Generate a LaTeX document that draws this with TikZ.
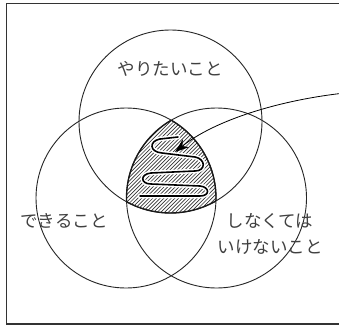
\documentclass[tikz,border=0pt]{standalone}
\usepackage{fontspec}
\newfontfamily\jp{Noto Sans CJK JP}
\usetikzlibrary{arrows.meta}
\tikzset{
  circ/.style={draw=black!85, line width=0.9pt},
  lbl/.style={font=\jp\fontsize{17.5}{26}\selectfont, text=black!75, inner sep=0pt, align=center},
  hatch/.style={line width=0.65pt, black!80},
  squig/.style={line width=1.6pt, black, line cap=round, line join=round},
  halo/.style={line width=4.6pt, white, line cap=round, line join=round},
  thickarc/.style={line width=1.35pt, black!90},
}
\begin{document}
\begin{tikzpicture}[x=1pt,y=-1pt]
\useasboundingbox (0,0) rectangle (339,326);
\fill[white] (0,0) rectangle (339,326);
\draw[line width=1.3pt, black!80] (6.5,3.5) rectangle (350,324);
% circles
\coordinate (ct) at (170.5,121.5);
\coordinate (cl) at (126,198);
\coordinate (cr) at (216.5,198);
% hatching of triple intersection
\begin{scope}
  \clip (ct) circle (91.5pt);
  \clip (cl) circle (90pt);
  \clip (cr) circle (90pt);
  \foreach \a in {0,3.7,...,260} {
    \draw[hatch] (\a,240) -- (\a+130,110);
  }
\end{scope}
\node[circ, circle, minimum size=183pt, inner sep=0pt] (top) at (ct) {};
\node[circ, circle, minimum size=180pt, inner sep=0pt] (left) at (cl) {};
\node[circ, circle, minimum size=180pt, inner sep=0pt] (right) at (cr) {};
% thick outline of triple region
\begin{scope}
  \clip (cl) circle (90pt);
  \clip (cr) circle (90pt);
  \draw[thickarc] (ct) circle (91.5pt);
\end{scope}
\begin{scope}
  \clip (ct) circle (91.5pt);
  \clip (cr) circle (90pt);
  \draw[thickarc] (cl) circle (90pt);
\end{scope}
\begin{scope}
  \clip (ct) circle (91.5pt);
  \clip (cl) circle (90pt);
  \draw[thickarc] (cr) circle (90pt);
\end{scope}
% squiggle
\def\squigpath{(178,137) -- (160,139) .. controls (149,141) and (149,152) .. (162,153) -- (195,157) .. controls (206,159) and (206,171) .. (195,171) -- (151,173) .. controls (140,174) and (140,184) .. (151,184) -- (200,186) .. controls (210,187) and (210,196) .. (200,196) -- (140,196)}
\draw[halo] \squigpath;
\draw[squig] \squigpath;
% labels
\node[lbl] (want) at (170,69) {やりたいこと};
\node[lbl] (can) at (64,221) {できること};
\node[lbl] (must) at (270,234) {しなくては\\いけないこと};
% arrow
\coordinate (src) at (345,93);
\coordinate (tip) at (175,152);
\draw[line width=0.8pt, -{Stealth[length=14pt,width=10pt]}] (src) .. controls (280,100) and (215,120) .. (tip);
\end{tikzpicture}
\end{document}
